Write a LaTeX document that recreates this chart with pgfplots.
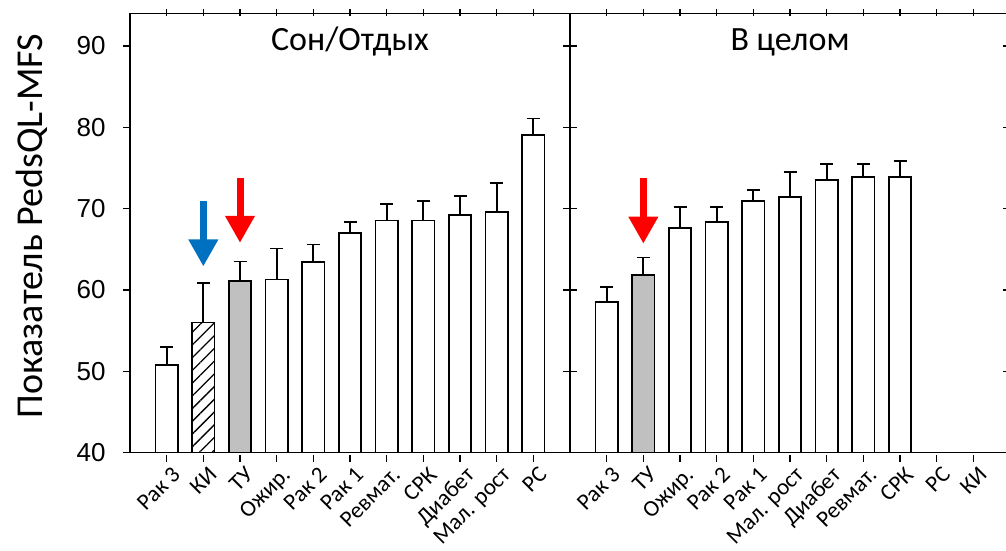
\documentclass[border=0pt]{standalone}
\usepackage{pgfplots}
\pgfplotsset{compat=1.18}
\usepackage{pgfplotstable}
\usepackage{fontspec}
\setmainfont{Carlito}
\newfontfamily\arial{Liberation Sans}
\usetikzlibrary{patterns.meta,arrows.meta}
\definecolor{bargray}{RGB}{192,192,192}
\definecolor{arrowblue}{RGB}{0,112,192}
\definecolor{arrowred}{RGB}{255,0,0}

% Left panel (Сон/Отдых)
\pgfplotstableread{
x y e
0 50.8 2.2
3 61.3 3.8
4 63.4 2.2
5 67.0 1.4
6 68.55 2.0
7 68.55 2.4
8 69.2 2.4
9 69.6 3.6
10 79.1 2.0
}\leftwhite
\pgfplotstableread{
x y e
1 56.0 4.9
}\lefthatch
\pgfplotstableread{
x y e
2 61.1 2.4
}\leftgray

% Right panel (В целом)
\pgfplotstableread{
x y e
0 58.5 1.85
2 67.6 2.65
3 68.4 1.85
4 70.9 1.4
5 71.45 3.05
6 73.5 2.0
7 73.9 1.6
8 73.9 2.0
}\rightwhite
\pgfplotstableread{
x y e
1 61.8 2.2
}\rightgray

\pgfplotsset{
  panel/.style={
    scale only axis, width=440pt, height=439.2pt,
    xmin=-1, xmax=11, ymin=40, ymax=94,
    ybar, bar width=22.5pt,
    axis line style={line width=1.5pt, black},
    major tick length=7pt,
    tick style={line width=1.5pt, black},
    xtick={0,...,10},
    x tick label style={font=\fontsize{23}{23}\selectfont, rotate=45, anchor=north east, inner sep=1pt, yshift=-6pt},
    clip=true,
  },
  barst/.style={draw=black, line width=1.8pt, bar shift=0pt,
    error bars/.cd, y dir=plus, y explicit,
    error bar style={line width=1.8pt, black},
    error mark options={rotate=90, line width=1.8pt, black, mark size=6.5pt}},
}

\begin{document}
\begin{tikzpicture}
\useasboundingbox (0,0) rectangle (1006pt,550pt);
\clip (0,0) rectangle (1006pt,550pt);

% ---------- left panel ----------
\begin{axis}[panel, at={(130pt,97.3pt)}, anchor=south west,
  ytick pos=left, tick align=outside,
  ytick={40,50,...,90},
  /pgf/number format/assume math mode=true,
  yticklabel style={font=\arial\fontsize{26}{26}\selectfont, xshift=-14pt},
  xticklabels={Рак 3, КИ, ТУ, Ожир., Рак 2, Рак 1, Ревмат., СРК, Диабет, Мал. рост, РС},
  every major x tick/.append style={yshift=-2.5pt},
]
\addplot[fill=white, barst] table[x=x, y=y, y error=e] {\leftwhite};
\addplot[pattern={Lines[angle=45,distance=9pt,line width=1.3pt]}, pattern color=black, barst] table[x=x, y=y, y error=e] {\lefthatch};
\addplot[fill=bargray, barst] table[x=x, y=y, y error=e] {\leftgray};
\node[anchor=base, font=\fontsize{34}{34}\selectfont] at (axis cs:5,89.4) {Сон/Отдых};
\draw[arrowblue, line width=7pt, -{Triangle[width=28pt,length=27pt]}] (axis cs:1,70.9) -- (axis cs:1,62.9);
\draw[arrowred, line width=7pt, -{Triangle[width=28pt,length=27pt]}] (axis cs:2,73.75) -- (axis cs:2,65.8);
\end{axis}

% ---------- right panel ----------
\begin{axis}[panel, at={(570pt,97.3pt)}, anchor=south west,
  tick align=outside, ytick=\empty,
  xticklabels={Рак 3, ТУ, Ожир., Рак 2, Рак 1, Мал. рост, Диабет, Ревмат., СРК, РС, КИ},
  every major x tick/.append style={yshift=-2.5pt},
]
\addplot[fill=white, barst] table[x=x, y=y, y error=e] {\rightwhite};
\addplot[fill=bargray, barst] table[x=x, y=y, y error=e] {\rightgray};
\node[anchor=base, font=\fontsize{34}{34}\selectfont] at (axis cs:5,89.4) {В целом};
\draw[arrowred, line width=7pt, -{Triangle[width=28pt,length=27pt]}] (axis cs:1,73.75) -- (axis cs:1,65.7);
\end{axis}

% overlay for y ticks crossing the divider and right spine
\begin{axis}[panel, at={(570pt,97.3pt)}, anchor=south west,
  xtick=\empty, ytick={40,50,...,90}, yticklabels={},
  ytick pos=both, tick align=center, major tick length=14pt,
]
\end{axis}

\node[rotate=90, font=\fontsize{38}{38}\selectfont] at (32pt,324pt) {Показатель PedsQL-MFS};
\end{tikzpicture}
\end{document}
